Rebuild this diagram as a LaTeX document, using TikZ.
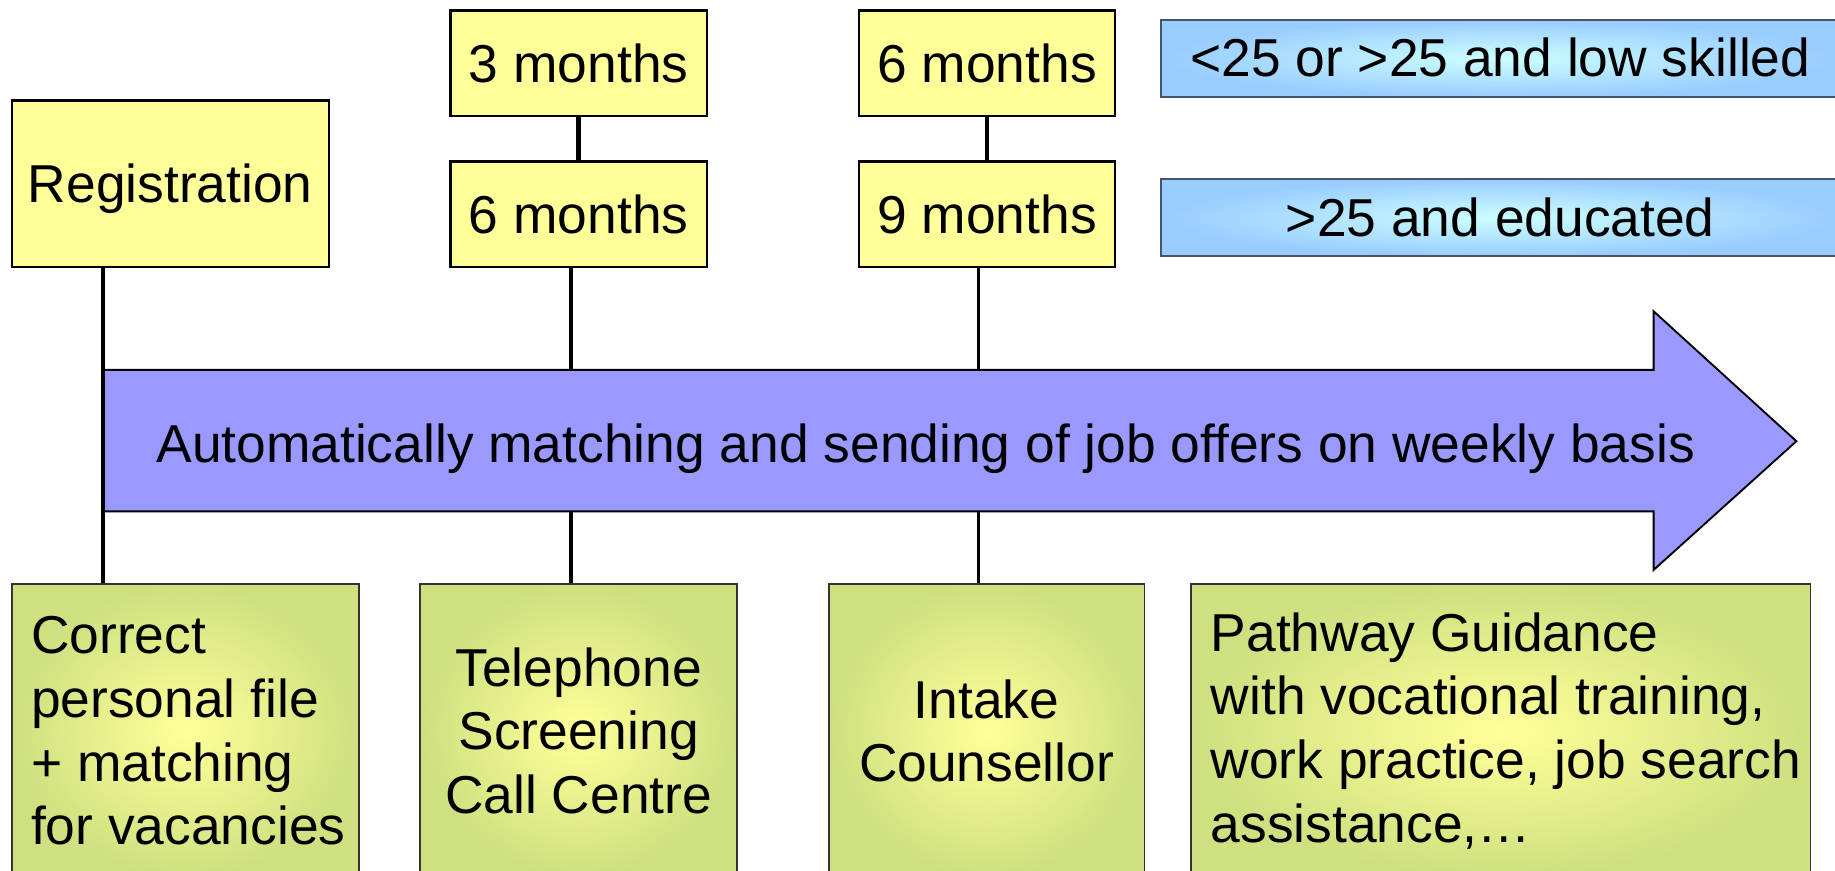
\documentclass[tikz,border=0pt]{standalone}
\usepackage{fontspec}
\setmainfont{Liberation Sans}
\begin{document}
\begin{tikzpicture}[x=0.5pt,y=-0.5pt,
  font=\fontsize{22.8pt}{27.25pt}\selectfont,
  ybox/.style={draw=black, line width=1pt, fill=yelfill, inner sep=0pt, text height=16.3pt, text depth=0pt},
  bbox/.style={draw=bordblue, line width=0.8pt, shade, shading=radial, inner color=bluein, outer color=blueout, inner sep=0pt, minimum width=290pt, minimum height=33pt},
  gbox/.style={draw=black!80, line width=0.8pt, shade, shading=radial, inner color=yelfill, outer color=greenout, inner sep=0pt, minimum height=125.5pt},
  gtext/.style={anchor=west, align=left, inner xsep=8.5pt, inner ysep=0pt},
  conn/.style={draw=black, line width=1.4pt},
  thickconn/.style={draw=black, line width=2pt},
  arrowshape/.style={draw=black, line width=0.8pt, fill=arrowfill}
]
\definecolor{yelfill}{HTML}{FFFF99}
\definecolor{greenout}{HTML}{CEE080}
\definecolor{bluein}{HTML}{CCFFFF}
\definecolor{blueout}{HTML}{99CCFF}
\definecolor{bordblue}{HTML}{44556A}
\definecolor{arrowfill}{HTML}{9999FF}
\useasboundingbox (0,0) rectangle (1568,744);
\clip (0,0) rectangle (1568,744);

% top yellow boxes
\node[ybox, minimum width=135.5pt, minimum height=71pt] (reg) at (145.5,157) {Registration};
\node[ybox, minimum width=109.5pt, minimum height=45pt] (m3) at (494.5,54) {3 months};
\node[ybox, minimum width=109.5pt, minimum height=45pt] (m6l) at (494.5,183) {6 months};
\node[ybox, minimum width=109.5pt, minimum height=45pt] (m6r) at (843.5,54) {6 months};
\node[ybox, minimum width=109.5pt, minimum height=45pt] (m9) at (843.5,183) {9 months};

% blue boxes
\node[bbox] (b1) at (1282,50) {\raisebox{1pt}{<25 or >25 and low skilled}};
\node[bbox] (b2) at (1282,186) {>25 and educated};

% arrow
\draw[arrowshape] (88,316) -- (1413,316) -- (1413,266) -- (1535,377) -- (1413,487) -- (1413,437) -- (88,437) -- cycle;
\node[text height=16.3pt, text depth=0pt, inner sep=0pt] (atext) at (791,379) {Automatically matching and sending of job offers on weekly basis};
\coordinate (at1) at (488,316);
\coordinate (ab1) at (488,437);
\coordinate (at2) at (836,316);
\coordinate (ab2) at (836,437);

% bottom green boxes
\node[gbox, minimum width=148.5pt] (g1) at (158.5,624.5) {};
\node[gtext] (g1t) at (g1.west) {Correct\\personal file\\+ matching\\for vacancies};
\node[gbox, minimum width=135.5pt, align=center] (g2) at (494.5,624.5) {Telephone\\Screening\\Call Centre};
\node[gbox, minimum width=135pt, align=center] (g3) at (843,624.5) {Intake\\Counsellor};
\node[gbox, minimum width=264.5pt] (g4) at (1282.5,624.5) {};
\node[gtext] (g4t) at (g4.west) {Pathway Guidance\\with vocational training,\\work practice, job search\\assistance,…};

% connectors
\draw[thickconn] (m3.south) -- (m6l.north);
\draw[thickconn] (m6r.south) -- (m9.north);
\draw[conn] (reg.south -| 88,0) -- (g1.north -| 88,0);
\draw[conn] (m6l.south -| at1) -- (at1);
\draw[conn] (ab1) -- (g2.north -| ab1);
\draw[conn] (m9.south -| at2) -- (at2);
\draw[conn] (ab2) -- (g3.north -| ab2);
\end{tikzpicture}
\end{document}
